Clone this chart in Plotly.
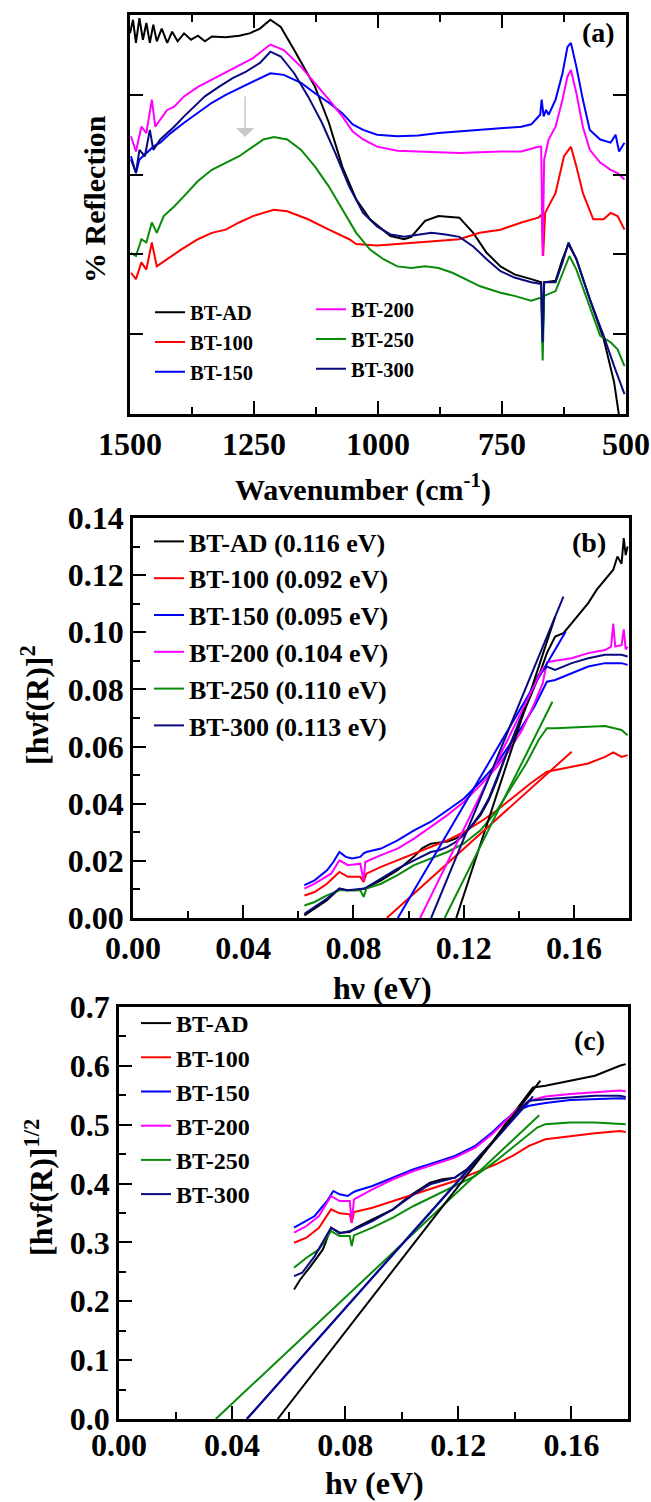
import plotly.graph_objects as go

FONT = "Liberation Serif"
NAMES = ["BT-AD", "BT-100", "BT-150", "BT-200", "BT-250", "BT-300"]
COLORS = ["#000000", "#ff0000", "#0000ff", "#ff00ff", "#0a8a0a", "#0a0a80"]
GAPS_B = ["0.116", "0.092", "0.095", "0.104", "0.110", "0.113"]

# ---------------- panel (a): % reflection vs wavenumber ----------------
A_AD_WN = [1500, 1494, 1488, 1481, 1474, 1467, 1460, 1453, 1446, 1436, 1425, 1415, 1404, 1391, 1377, 1363, 1349, 1335,
           1307, 1280, 1259, 1238, 1217, 1196, 1169, 1127, 1099, 1072, 1044, 1016, 975, 947, 933, 905, 878, 836, 808,
           781, 753, 725, 691, 671, 668, 665, 642, 628, 616, 600, 573, 545, 524, 514, 505]
A_AD_R = [4.77, 4.94, 4.65, 4.96, 4.69, 4.90, 4.65, 4.88, 4.67, 4.83, 4.65, 4.79, 4.67, 4.77, 4.69, 4.74, 4.67, 4.73,
          4.72, 4.74, 4.77, 4.83, 4.94, 4.85, 4.56, 4.10, 3.65, 3.10, 2.69, 2.44, 2.23, 2.19, 2.22, 2.42, 2.48, 2.46, 2.27,
          2.02, 1.85, 1.75, 1.69, 1.65, 0.90, 1.65, 1.67, 1.94, 2.13, 1.94, 1.44, 0.94, 0.40, 0.0, -0.4]

A_100_WN = [1498, 1488, 1477, 1467, 1456, 1446, 1425, 1397, 1363, 1335, 1307, 1280, 1252, 1210, 1183, 1141, 1099, 1058,
            1044, 1002, 961, 919, 878, 836, 795, 753, 711, 677, 670, 667, 663, 642, 625, 611, 600, 587, 566, 545, 531,
            517, 503]
A_100_R = [1.77, 1.69, 1.90, 1.81, 2.15, 1.85, 1.94, 2.06, 2.19, 2.27, 2.31, 2.40, 2.48, 2.56, 2.54, 2.44, 2.31, 2.19,
           2.13, 2.11, 2.13, 2.15, 2.17, 2.19, 2.27, 2.31, 2.40, 2.46, 2.50, 1.98, 2.52, 2.77, 3.23, 3.35, 3.10, 2.77,
           2.44, 2.44, 2.52, 2.48, 2.31]

A_150_WN = [1498, 1488, 1481, 1467, 1453, 1439, 1418, 1391, 1363, 1335, 1307, 1280, 1252, 1217, 1190, 1155, 1127, 1099,
            1072, 1051, 1030, 1002, 961, 919, 878, 836, 795, 753, 711, 691, 673, 670, 666, 661, 656, 642, 628, 618, 611,
            600, 587, 573, 552, 531, 521, 514, 503]
A_150_R = [3.23, 3.02, 3.19, 3.27, 3.35, 3.40, 3.52, 3.65, 3.77, 3.90, 4.00, 4.08, 4.17, 4.27, 4.25, 4.15, 4.02, 3.90,
           3.77, 3.63, 3.56, 3.50, 3.48, 3.49, 3.52, 3.54, 3.56, 3.58, 3.60, 3.63, 3.75, 3.94, 3.73, 3.81, 3.75, 3.94,
           4.27, 4.60, 4.65, 4.35, 3.94, 3.56, 3.44, 3.40, 3.50, 3.29, 3.40]

A_200_WN = [1498, 1488, 1477, 1467, 1456, 1449, 1439, 1425, 1411, 1391, 1363, 1335, 1307, 1280, 1252, 1217, 1190, 1155,
            1127, 1099, 1072, 1051, 1030, 1002, 961, 919, 878, 836, 795, 753, 711, 677, 671, 668, 665, 656, 642, 628,
            618, 611, 600, 587, 573, 552, 531, 517, 503]
A_200_R = [3.48, 3.29, 3.60, 3.52, 3.94, 3.60, 3.69, 3.81, 3.85, 3.98, 4.10, 4.19, 4.29, 4.37, 4.46, 4.63, 4.56, 4.35,
           4.15, 3.94, 3.73, 3.54, 3.44, 3.35, 3.30, 3.29, 3.28, 3.27, 3.28, 3.29, 3.29, 3.35, 3.35, 1.98, 3.19, 3.44,
           3.60, 3.94, 4.23, 4.31, 4.02, 3.60, 3.31, 3.15, 3.06, 3.02, 2.94]

A_250_WN = [1498, 1488, 1477, 1467, 1456, 1446, 1432, 1411, 1391, 1363, 1335, 1307, 1280, 1252, 1231, 1210, 1183, 1155,
            1127, 1099, 1072, 1044, 1016, 989, 961, 933, 905, 878, 850, 822, 794, 753, 725, 691, 671, 668, 665, 642, 628,
            614, 600, 573, 552, 531, 517, 503]
A_250_R = [2.02, 1.98, 2.19, 2.15, 2.40, 2.27, 2.48, 2.60, 2.73, 2.92, 3.06, 3.15, 3.23, 3.35, 3.44, 3.47, 3.44, 3.31,
           3.10, 2.85, 2.56, 2.27, 2.06, 1.94, 1.85, 1.83, 1.85, 1.83, 1.77, 1.69, 1.60, 1.52, 1.48, 1.42, 1.46, 0.67,
           1.48, 1.54, 1.77, 1.98, 1.81, 1.35, 0.98, 0.90, 0.81, 0.60]

A_300_WN = [1498, 1488, 1481, 1470, 1460, 1453, 1439, 1425, 1411, 1391, 1370, 1349, 1321, 1293, 1266, 1238, 1217, 1196,
            1169, 1141, 1113, 1086, 1058, 1030, 1002, 975, 947, 919, 892, 864, 836, 808, 781, 753, 725, 691, 671, 668,
            665, 642, 628, 616, 600, 573, 545, 524, 503]
A_300_R = [3.19, 3.02, 3.31, 3.23, 3.56, 3.31, 3.44, 3.52, 3.60, 3.73, 3.85, 3.98, 4.10, 4.21, 4.29, 4.40, 4.54, 4.48,
           4.27, 3.98, 3.65, 3.27, 2.85, 2.52, 2.35, 2.25, 2.22, 2.25, 2.27, 2.25, 2.22, 2.10, 1.94, 1.79, 1.71, 1.65,
           1.63, 0.90, 1.65, 1.65, 1.90, 2.15, 1.94, 1.44, 0.98, 0.60, 0.25]

# ---------------- panel (b): [hv f(R)]^2 vs hv ----------------
B_AD_X = [0.0622, 0.0659, 0.0704, 0.0749, 0.0772, 0.0810, 0.0840, 0.0900, 0.0960, 0.1020, 0.1050, 0.1081, 0.1111,
          0.1141, 0.1171, 0.1201, 0.1231, 0.1261, 0.1291, 0.1321, 0.1351, 0.1382, 0.1412, 0.1442, 0.1472, 0.1502,
          0.1532, 0.1562, 0.1592, 0.1622, 0.1652, 0.1683, 0.1713, 0.1743, 0.1758, 0.1773, 0.1781, 0.1788, 0.1795]
B_AD_Y = [0.0009, 0.0033, 0.0062, 0.0103, 0.0097, 0.0097, 0.0103, 0.0132, 0.0167, 0.0215, 0.0245, 0.0260, 0.0265,
          0.0268, 0.0278, 0.0295, 0.0325, 0.0360, 0.0413, 0.0483, 0.0564, 0.0635, 0.0705, 0.0775, 0.0845, 0.0927,
          0.0985, 0.0997, 0.1032, 0.1067, 0.1102, 0.1149, 0.1184, 0.1219, 0.1265, 0.1240, 0.1330, 0.1270, 0.1300]

B_100_X = [0.0622, 0.0659, 0.0704, 0.0749, 0.0780, 0.0825, 0.0837, 0.0847, 0.0900, 0.0960, 0.1020, 0.1081, 0.1141,
           0.1201, 0.1261, 0.1321, 0.1382, 0.1442, 0.1502, 0.1532, 0.1592, 0.1652, 0.1713, 0.1743, 0.1773, 0.1795]
B_100_Y = [0.0079, 0.0091, 0.0120, 0.0161, 0.0144, 0.0144, 0.0126, 0.0155, 0.0179, 0.0202, 0.0226, 0.0249, 0.0272,
           0.0301, 0.0337, 0.0377, 0.0424, 0.0471, 0.0512, 0.0518, 0.0529, 0.0541, 0.0564, 0.0580, 0.0564, 0.0570]

B_150_X = [0.0622, 0.0659, 0.0704, 0.0727, 0.0749, 0.0772, 0.0795, 0.0825, 0.0837, 0.0847, 0.0900, 0.0960, 0.1020,
           0.1081, 0.1141, 0.1201, 0.1261, 0.1321, 0.1366, 0.1412, 0.1457, 0.1487, 0.1502, 0.1532, 0.1592, 0.1652,
           0.1713, 0.1773, 0.1795]
B_150_Y = [0.0115, 0.0132, 0.0167, 0.0196, 0.0231, 0.0214, 0.0208, 0.0214, 0.0226, 0.0231, 0.0243, 0.0272, 0.0307,
           0.0337, 0.0377, 0.0418, 0.0477, 0.0541, 0.0605, 0.0670, 0.0740, 0.0798, 0.0827, 0.0833, 0.0857, 0.0880,
           0.0892, 0.0892, 0.0886]

B_200_X = [0.0622, 0.0659, 0.0719, 0.0749, 0.0780, 0.0825, 0.0837, 0.0843, 0.0900, 0.0960, 0.1020, 0.1081, 0.1141,
           0.1201, 0.1261, 0.1321, 0.1366, 0.1412, 0.1457, 0.1487, 0.1502, 0.1532, 0.1592, 0.1652, 0.1713, 0.1735,
           0.1743, 0.1750, 0.1773, 0.1781, 0.1788, 0.1795]
B_200_Y = [0.0103, 0.0120, 0.0155, 0.0202, 0.0185, 0.0190, 0.0132, 0.0196, 0.0220, 0.0243, 0.0278, 0.0319, 0.0360,
           0.0407, 0.0465, 0.0529, 0.0588, 0.0658, 0.0751, 0.0822, 0.0895, 0.0900, 0.0909, 0.0927, 0.0938, 0.0950,
           0.1030, 0.0950, 0.0955, 0.1010, 0.0940, 0.0950]

B_250_X = [0.0622, 0.0659, 0.0704, 0.0749, 0.0780, 0.0825, 0.0837, 0.0847, 0.0900, 0.0960, 0.1020, 0.1081, 0.1141,
           0.1201, 0.1261, 0.1321, 0.1382, 0.1427, 0.1472, 0.1502, 0.1532, 0.1592, 0.1652, 0.1713, 0.1773, 0.1795]
B_250_Y = [0.0044, 0.0056, 0.0079, 0.0097, 0.0097, 0.0097, 0.0074, 0.0103, 0.0120, 0.0150, 0.0185, 0.0208, 0.0231,
           0.0261, 0.0307, 0.0377, 0.0471, 0.0541, 0.0623, 0.0664, 0.0664, 0.0667, 0.0670, 0.0672, 0.0658, 0.0640]

B_300_X = [0.0622, 0.0659, 0.0704, 0.0749, 0.0780, 0.0840, 0.0900, 0.0960, 0.1020, 0.1081, 0.1111, 0.1141, 0.1171,
           0.1201, 0.1231, 0.1261, 0.1291, 0.1321, 0.1351, 0.1382, 0.1412, 0.1442, 0.1472, 0.1502, 0.1532, 0.1562,
           0.1592, 0.1652, 0.1713, 0.1773, 0.1795]
B_300_Y = [0.0015, 0.0039, 0.0068, 0.0103, 0.0097, 0.0103, 0.0138, 0.0173, 0.0202, 0.0231, 0.0237, 0.0249, 0.0266,
           0.0290, 0.0325, 0.0366, 0.0418, 0.0488, 0.0564, 0.0640, 0.0716, 0.0786, 0.0851, 0.0880, 0.0868, 0.0880,
           0.0892, 0.0909, 0.0921, 0.0921, 0.0915]

# linear fits in (b): [x at zero, x at end], [0, y at end]
B_FIT_X = {"BT-AD": [0.1173, 0.1532], "BT-100": [0.0921, 0.1592], "BT-150": [0.0961, 0.1570],
           "BT-200": [0.1042, 0.1490], "BT-250": [0.1131, 0.1522], "BT-300": [0.1082, 0.1562]}
B_FIT_Y = {"BT-AD": [0.0, 0.1055], "BT-100": [0.0, 0.0582], "BT-150": [0.0, 0.1002],
           "BT-200": [0.0, 0.0880], "BT-250": [0.0, 0.0757], "BT-300": [0.0, 0.1125]}

# ---------------- panel (c): [hv f(R)]^1/2 vs hv ----------------
C_AD_X = [0.0619, 0.0641, 0.0678, 0.0721, 0.0750, 0.0780, 0.0816, 0.0838, 0.0896, 0.0969, 0.1027, 0.1056, 0.1100,
          0.1144, 0.1188, 0.1231, 0.1275, 0.1319, 0.1362, 0.1406, 0.1464, 0.1508, 0.1596, 0.1683, 0.1771, 0.1792]
C_AD_Y = [0.2201, 0.2371, 0.2598, 0.2881, 0.3250, 0.3165, 0.3176, 0.3250, 0.3392, 0.3562, 0.3789, 0.3874, 0.4016,
          0.4073, 0.4101, 0.4243, 0.4470, 0.4697, 0.4980, 0.5264, 0.5632, 0.5661, 0.5746, 0.5831, 0.6001, 0.6029]

C_100_X = [0.0619, 0.0663, 0.0707, 0.0750, 0.0780, 0.0816, 0.0823, 0.0831, 0.0896, 0.0969, 0.1042, 0.1115, 0.1188,
           0.1260, 0.1333, 0.1392, 0.1450, 0.1508, 0.1596, 0.1683, 0.1771, 0.1792]
C_100_Y = [0.2995, 0.3080, 0.3250, 0.3562, 0.3494, 0.3477, 0.3335, 0.3517, 0.3590, 0.3704, 0.3817, 0.3931, 0.4044,
           0.4186, 0.4328, 0.4470, 0.4640, 0.4753, 0.4810, 0.4855, 0.4895, 0.4878]

C_150_X = [0.0619, 0.0648, 0.0692, 0.0736, 0.0758, 0.0780, 0.0809, 0.0826, 0.0838, 0.0896, 0.0969, 0.1042, 0.1115,
           0.1188, 0.1260, 0.1319, 0.1362, 0.1406, 0.1450, 0.1508, 0.1596, 0.1683, 0.1771, 0.1792]
C_150_Y = [0.3250, 0.3335, 0.3449, 0.3704, 0.3874, 0.3817, 0.3789, 0.3846, 0.3874, 0.3959, 0.4101, 0.4243, 0.4356,
           0.4470, 0.4640, 0.4867, 0.5065, 0.5235, 0.5321, 0.5370, 0.5420, 0.5440, 0.5450, 0.5440]

C_200_X = [0.0619, 0.0663, 0.0707, 0.0750, 0.0780, 0.0816, 0.0823, 0.0831, 0.0896, 0.0969, 0.1042, 0.1115, 0.1188,
           0.1260, 0.1319, 0.1362, 0.1406, 0.1450, 0.1508, 0.1596, 0.1683, 0.1771, 0.1792]
C_200_Y = [0.3165, 0.3279, 0.3449, 0.3789, 0.3704, 0.3704, 0.3335, 0.3732, 0.3902, 0.4073, 0.4214, 0.4328, 0.4441,
           0.4611, 0.4838, 0.5037, 0.5264, 0.5406, 0.5480, 0.5520, 0.5550, 0.5580, 0.5570]

C_250_X = [0.0619, 0.0663, 0.0707, 0.0750, 0.0780, 0.0816, 0.0823, 0.0831, 0.0896, 0.0969, 0.1042, 0.1115, 0.1188,
           0.1260, 0.1333, 0.1392, 0.1450, 0.1479, 0.1508, 0.1596, 0.1683, 0.1771, 0.1792]
C_250_Y = [0.2569, 0.2740, 0.2881, 0.3193, 0.3108, 0.3108, 0.2938, 0.3120, 0.3250, 0.3420, 0.3619, 0.3789, 0.3959,
           0.4129, 0.4385, 0.4611, 0.4838, 0.4952, 0.5009, 0.5037, 0.5037, 0.5009, 0.5009]

C_300_X = [0.0619, 0.0648, 0.0692, 0.0750, 0.0780, 0.0816, 0.0838, 0.0896, 0.0969, 0.1042, 0.1100, 0.1144, 0.1188,
           0.1231, 0.1275, 0.1319, 0.1362, 0.1406, 0.1450, 0.1508, 0.1596, 0.1683, 0.1771, 0.1792]
C_300_Y = [0.2428, 0.2484, 0.2768, 0.3250, 0.3154, 0.3193, 0.3233, 0.3364, 0.3562, 0.3817, 0.3988, 0.4044, 0.4101,
           0.4243, 0.4441, 0.4697, 0.4952, 0.5207, 0.5406, 0.5434, 0.5462, 0.5491, 0.5490, 0.5470]

C_FIT_X = {"BT-250": [0.0342, 0.1486], "BT-150": [0.0452, 0.1457], "BT-300": [0.0452, 0.1464],
           "BT-AD": [0.0561, 0.1490]}
C_FIT_Y = {"BT-250": [0.0, 0.516], "BT-150": [0.0, 0.543], "BT-300": [0.0, 0.548],
           "BT-AD": [0.0, 0.575]}

A_DATA = {"BT-AD": (A_AD_WN, A_AD_R), "BT-100": (A_100_WN, A_100_R), "BT-150": (A_150_WN, A_150_R),
          "BT-200": (A_200_WN, A_200_R), "BT-250": (A_250_WN, A_250_R), "BT-300": (A_300_WN, A_300_R)}
B_DATA = {"BT-AD": (B_AD_X, B_AD_Y), "BT-100": (B_100_X, B_100_Y), "BT-150": (B_150_X, B_150_Y),
          "BT-200": (B_200_X, B_200_Y), "BT-250": (B_250_X, B_250_Y), "BT-300": (B_300_X, B_300_Y)}
C_DATA = {"BT-AD": (C_AD_X, C_AD_Y), "BT-100": (C_100_X, C_100_Y), "BT-150": (C_150_X, C_150_Y),
          "BT-200": (C_200_X, C_200_Y), "BT-250": (C_250_X, C_250_Y), "BT-300": (C_300_X, C_300_Y)}

W, H = 651, 1502


def px(x):
    return x / W


def py(y):
    return 1 - y / H


fig = go.Figure()
LW = 2

for i, (name, col) in enumerate(zip(NAMES, COLORS)):
    wn, r = A_DATA[name]
    fig.add_trace(go.Scatter(x=wn, y=r, mode="lines", name=name, line=dict(color=col, width=LW),
                             xaxis="x", yaxis="y", legend="legend" if i < 3 else "legend4"))
for i, (name, col) in enumerate(zip(NAMES, COLORS)):
    xs, ys = B_DATA[name]
    fig.add_trace(go.Scatter(x=xs, y=ys, mode="lines", name=f"{name} ({GAPS_B[i]} eV)",
                             line=dict(color=col, width=LW), xaxis="x2", yaxis="y2", legend="legend2"))
for i, (name, col) in enumerate(zip(NAMES, COLORS)):
    fig.add_trace(go.Scatter(x=B_FIT_X[name], y=B_FIT_Y[name], mode="lines", showlegend=False,
                             line=dict(color=col, width=LW), xaxis="x2", yaxis="y2"))
for i, (name, col) in enumerate(zip(NAMES, COLORS)):
    xs, ys = C_DATA[name]
    fig.add_trace(go.Scatter(x=xs, y=ys, mode="lines", name=name, line=dict(color=col, width=LW),
                             xaxis="x3", yaxis="y3", legend="legend3"))
for name in C_FIT_X:
    col = COLORS[NAMES.index(name)]
    fig.add_trace(go.Scatter(x=C_FIT_X[name], y=C_FIT_Y[name], mode="lines", showlegend=False,
                             line=dict(color=col, width=LW), xaxis="x3", yaxis="y3"))

tickfont = dict(family=FONT, size=32, color="black", weight="bold")
axis_common = dict(showline=True, linecolor="black", linewidth=2.5, ticks="inside", ticklen=13,
                   tickwidth=2, tickcolor="black", showgrid=False, zeroline=False, tickfont=tickfont,
                   automargin=False)


def leg(x, y, size):
    return dict(x=px(x), y=py(y), xanchor="left", yanchor="top", bgcolor="rgba(0,0,0,0)",
                font=dict(family=FONT, size=size, color="black", weight="bold"), tracegroupgap=0)


fig.update_layout(
    width=W, height=H, margin=dict(l=0, r=0, t=0, b=0, autoexpand=False),
    paper_bgcolor="white", plot_bgcolor="white", showlegend=True,
    font=dict(family=FONT, color="black"),
    xaxis=dict(domain=[px(130), px(626)], range=[1500, 500], dtick=250, tick0=500, anchor="y",
               mirror="allticks", minor=dict(ticks="inside", ticklen=7, dtick=125, tickcolor="black", tickwidth=2),
               **axis_common),
    yaxis=dict(domain=[py(414), py(15)], range=[0, 5], dtick=1, anchor="x", showticklabels=False,
               mirror="allticks", **axis_common),
    xaxis2=dict(domain=[px(133), px(629)], range=[0, 0.18], dtick=0.04, tickformat=".2f", anchor="y2",
                mirror=True, minor=dict(ticks="inside", ticklen=7, dtick=0.02, tickcolor="black", tickwidth=2),
                **axis_common),
    yaxis2=dict(domain=[py(918), py(518)], range=[0, 0.14], dtick=0.02, tickformat=".2f", anchor="x2",
                mirror=True, minor=dict(ticks="inside", ticklen=7, dtick=0.01, tickcolor="black", tickwidth=2),
                **axis_common),
    xaxis3=dict(domain=[px(119), px(628)], range=[0, 0.18], dtick=0.04, tickformat=".2f", anchor="y3",
                mirror=True, minor=dict(ticks="inside", ticklen=7, dtick=0.02, tickcolor="black", tickwidth=2),
                ticklabelstandoff=-4, **axis_common),
    yaxis3=dict(domain=[py(1419), py(1007)], range=[0, 0.7], dtick=0.1, tickformat=".1f", anchor="x3",
                mirror=True, minor=dict(ticks="inside", ticklen=7, dtick=0.05, tickcolor="black", tickwidth=2),
                **axis_common),
    legend=leg(150, 292.5, 20.5),
    legend4=leg(311, 289.5, 20.5),
    legend2=leg(149, 518, 26),
    legend3=leg(136, 1001, 24),
)


def label(text, x, y, size, angle=0):
    fig.add_annotation(text=text, x=px(x), y=py(y), xref="paper", yref="paper", showarrow=False,
                       textangle=angle, xanchor="center", yanchor="middle",
                       font=dict(family=FONT, size=size, color="black", weight="bold"))


label("(a)", 598, 33, 28)
label("(b)", 589, 543, 28)
label("(c)", 589, 1040, 28)
label("% Reflection", 95, 199, 30, -90)
label("Wavenumber (cm<sup>-1</sup>)", 363, 487, 30)
label("[hνf(R)]<sup>2</sup>", 35, 705, 32, -90)
label("hν (eV)", 382, 988, 32)
label("[hνf(R)]<sup>1/2</sup>", 39, 1188, 32, -90)
label("hν (eV)", 374, 1483, 32)

# light grey arrow in panel (a)
fig.add_annotation(x=1268, y=3.47, xref="x", yref="y", ax=0, ay=-42, showarrow=True, text="",
                   arrowcolor="#c8c8c8", arrowwidth=1.5, arrowhead=1, arrowsize=2)

# remove the default page margin so the figure fills the window exactly
fig.write_html("out.html", config={"displayModeBar": False},
               post_script="document.body.style.margin='0';document.body.style.overflow='hidden';")
